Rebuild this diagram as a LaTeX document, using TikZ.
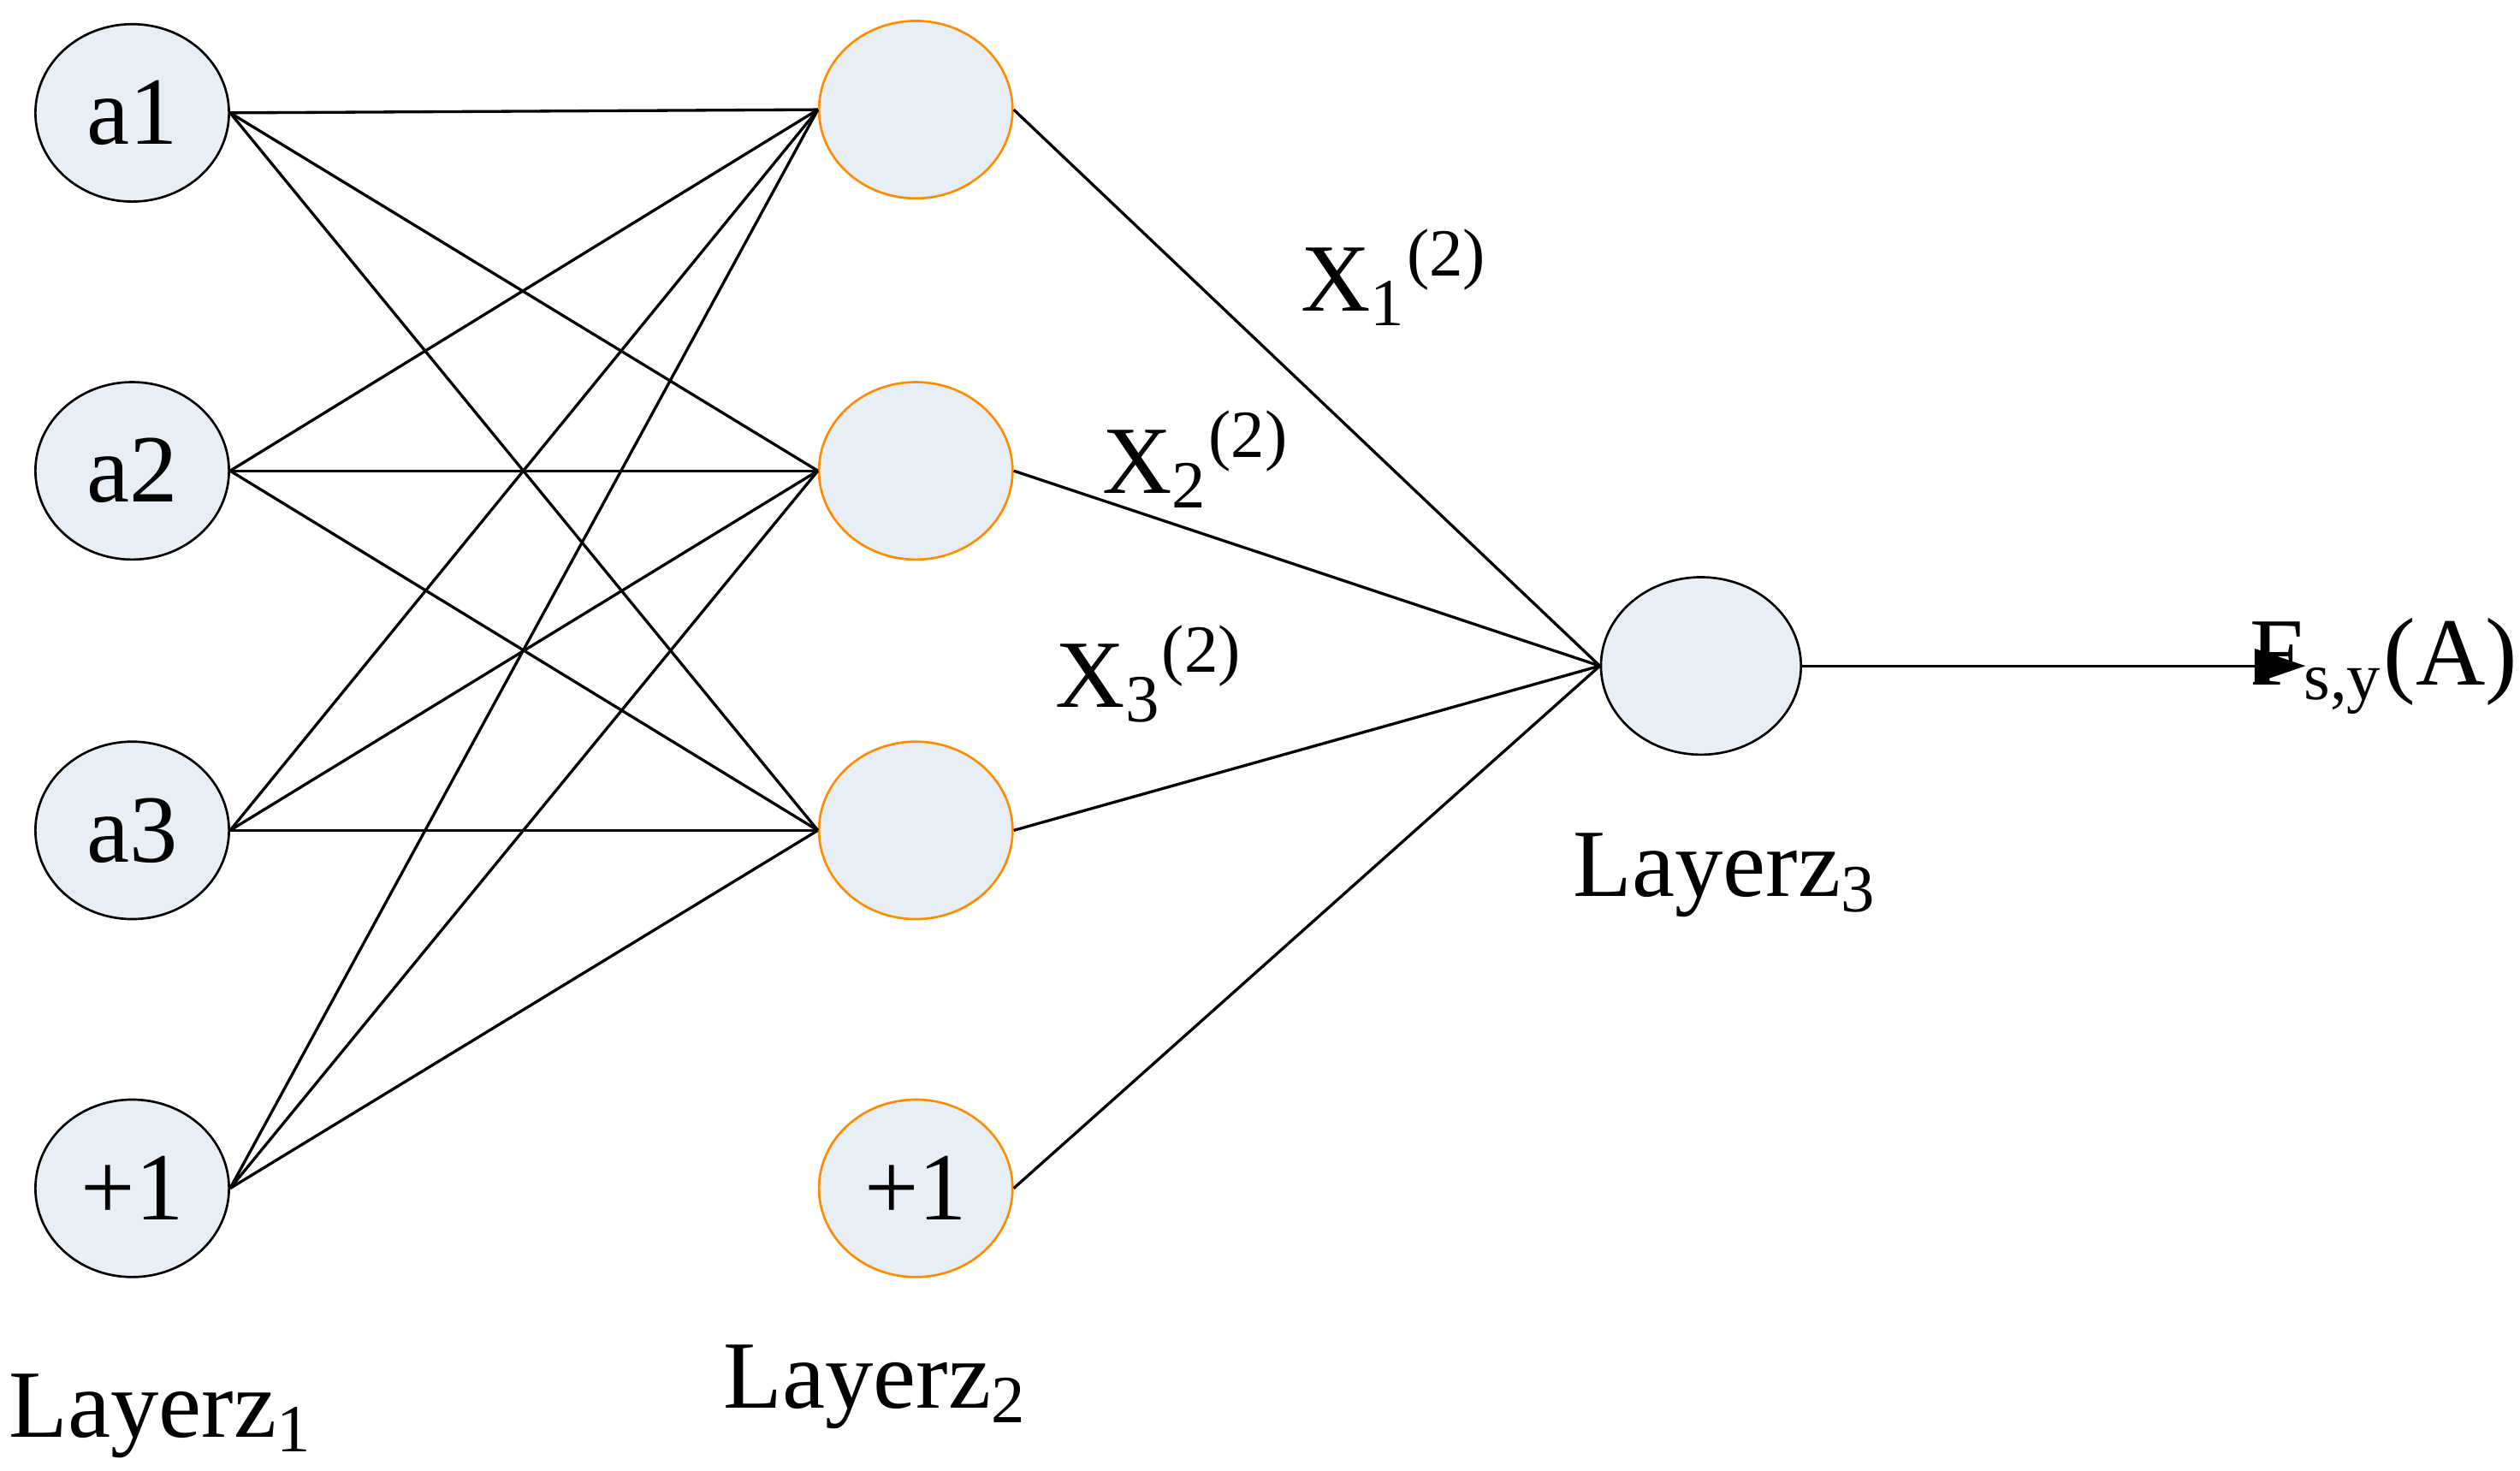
\documentclass[tikz,border=0pt]{standalone}
\usepackage{fontspec}
\setmainfont{Liberation Serif}
\usetikzlibrary{shapes.geometric,arrows.meta}
\begin{document}
\begin{tikzpicture}[x=0.01cm,y=-0.01cm,
  neu/.style={ellipse,draw=black,fill=fillc,minimum width=120\pgflinewidth*0+1.2cm,minimum height=1.1cm,inner sep=0pt,font=\fontsize{17}{20}\selectfont},
  hid/.style={neu,draw=orange!90!yellow},
  lab/.style={font=\fontsize{17}{20}\selectfont,inner sep=0pt},
  con/.style={draw=black,line width=0.5pt}]
\definecolor{fillc}{HTML}{E8EEF5}
\useasboundingbox (0,0) rectangle (1563,912);
\node[neu] (a1) at (82,70) {a1};
\node[neu] (a2) at (82,292) {a2};
\node[neu] (a3) at (82,515) {a3};
\node[neu] (b1) at (82,737) {+1};
\node[hid] (h1) at (568,68) {};
\node[hid] (h2) at (568,292) {};
\node[hid] (h3) at (568,515) {};
\node[hid] (hb) at (568,737) {+1};
\node[neu,minimum width=1.24cm] (o) at (1055,413) {};
\coordinate (e) at (1430,413);
\foreach \s in {a1,a2,a3,b1}{\foreach \t in {h1,h2,h3}{\draw[con] (\s.east) -- (\t.west);}}
\foreach \s in {h1,h2,h3,hb}{\draw[con] (\s.east) -- (o.west);}
\draw[con,-{Triangle[length=9pt,width=6pt]}] (o.east) -- (e);
\node[lab,anchor=west] (f) at (1395,413) {F\textsubscript{s,y}(A)};
\node[lab] (x1) at (865,172) {X\textsubscript{1}\textsuperscript{(2)}};
\node[lab] (x2) at (742,285) {X\textsubscript{2}\textsuperscript{(2)}};
\node[lab] (x3) at (713,418) {X\textsubscript{3}\textsuperscript{(2)}};
\node[lab] (l1) at (100,878) {Layerz\textsubscript{1}};
\node[lab] (l2) at (543,860) {Layerz\textsubscript{2}};
\node[lab] (l3) at (1070,543) {Layerz\textsubscript{3}};
\end{tikzpicture}
\end{document}
